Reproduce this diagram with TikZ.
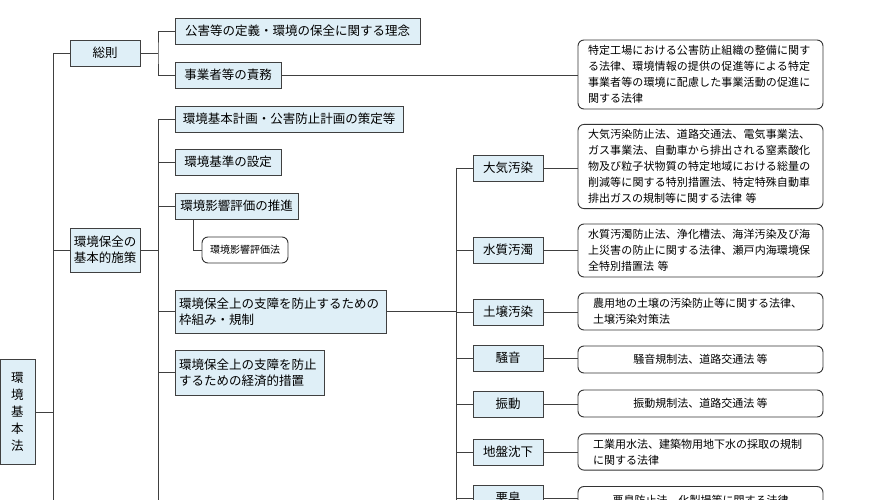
\documentclass[tikz,border=0pt]{standalone}
\usepackage{fontspec}
\setmainfont{Noto Sans CJK JP}
\XeTeXlinebreaklocale "ja"
\XeTeXlinebreakskip=0pt plus 1pt
\definecolor{boxblue}{RGB}{223,239,247}
\begin{document}
\begin{tikzpicture}[x=1pt,y=-1pt,
  box/.style={draw=black!75,line width=0.9pt,fill=boxblue,inner sep=2pt,
              font=\fontsize{12.5}{16}\selectfont,minimum height=26pt},
  lawc/.style={draw=black!80,line width=0.9pt,rounded corners=6pt,fill=white,
              font=\fontsize{11}{16}\selectfont,minimum width=245pt,inner sep=5pt},
  law/.style={lawc,text width=225pt,align=left},
  cat/.style={box,minimum width=70pt},
  wire/.style={draw=black!75,line width=0.9pt}]
  \clip (0,0) rectangle (876,500);
  \fill[white] (0,0) rectangle (876,500);
  % left column
  \node[box,minimum width=35pt,minimum height=105pt,align=center,font=\fontsize{12.5}{17}\selectfont]
        (kihon)  at (17.5,412) {環\\境\\基\\本\\法};
  \node[box,minimum width=70pt] (soku)   at (105,53)  {総則};
  \node[box,minimum width=70pt,minimum height=44pt,align=left] (sesaku) at (105,250) {環境保全の\\基本的施策};
  \coordinate (t0) at (53,53);
  \coordinate (t1) at (53,500);
  \draw[wire] (t0) -- (t1);
  \draw[wire] (kihon.east) -- (kihon.east -| t0);
  \draw[wire] (t0) -- (soku.west);
  \draw[wire] (sesaku.west) -- (sesaku.west -| t0);
  % 総則
  \node[box,minimum width=245pt] (rinen)  at (297.5,31) {公害等の定義・環境の保全に関する理念};
  \node[box,minimum width=106pt] (sekimu) at (228,75)   {事業者等の責務};
  \node[law,minimum height=69pt] (l0) at (700.5,74.5)
        {特定工場における公害防止組織の整備に関する法律、環境情報の提供の促進等による特定事業者等の環境に配慮した事業活動の促進に関する法律};
  \draw[wire] (soku.east) -- (158,53);
  \draw[wire] (rinen.west) -| (158,53) |- (sekimu.west);
  \draw[wire] (sekimu.east) -- (sekimu.east -| l0.west);
  % 基本的施策
  \node[box,minimum width=228pt] (keikaku) at (289,119) {環境基本計画・公害防止計画の策定等};
  \node[box,minimum width=106pt] (kijun)   at (228,162) {環境基準の設定};
  \node[box,minimum width=123pt] (eikyo)   at (236.5,206) {環境影響評価の推進};
  \node[lawc,minimum width=86pt,minimum height=26pt,
        font=\fontsize{10}{12}\selectfont] (eikyoho) at (245,250) {環境影響評価法};
  \node[box,minimum width=211pt,minimum height=43pt,text width=203pt,align=left] (kisei) at (280.5,311.5)
        {環境保全上の支障を防止するための\\枠組み・規制};
  \node[box,minimum width=149pt,minimum height=45pt,text width=141pt,align=left] (keizai) at (249.5,372.5)
        {環境保全上の支障を防止\\するための経済的措置};
  \coordinate (s0) at (158,119);
  \coordinate (s1) at (158,500);
  \draw[wire] (s0) -- (s1);
  \draw[wire] (sesaku.east) -- (sesaku.east -| s0);
  \foreach \n in {keikaku,kijun,eikyo,kisei,keizai}
    \draw[wire] (\n.west) -- (\n.west -| s0);
  \draw[wire] (eikyo.south -| 193,0) |- (eikyoho.west);
  % 規制の分野
  \coordinate (k0) at (456,168);
  \coordinate (k1) at (456,500);
  \draw[wire] (k0) -- (k1);
  \draw[wire] (kisei.east) -- (kisei.east -| k0);
  \foreach \n/\y/\t in {taiki/168/大気汚染,suishitsu/250/水質汚濁,dojo/312/土壌汚染,soon/358/騒音,
                        shindo/404/振動,jiban/452/地盤沈下,akushu/498/悪臭}
    \node[cat] (\n) at (508,\y) {\t};
  \node[law,minimum height=79pt] (ltaiki) at (700.5,166.5)
        {大気汚染防止法、道路交通法、電気事業法、ガス事業法、自動車から排出される窒素酸化物及び粒子状物質の特定地域における総量の削減等に関する特別措置法、特定特殊自動車排出ガスの規制等に関する法律 等};
  \node[law,minimum height=53pt] (lsuishitsu) at (700.5,250.5)
        {水質汚濁防止法、浄化槽法、海洋汚染及び海上災害の防止に関する法律、瀬戸内海環境保全特別措置法 等};
  \node[law,minimum height=37pt,text width=215pt] (ldojo) at (700.5,311.5)
        {農用地の土壌の汚染防止等に関する法律、\\土壌汚染対策法};
  \node[lawc,minimum height=27pt] (lsoon) at (700.5,359.5) {騒音規制法、道路交通法 等};
  \node[lawc,minimum height=27pt] (lshindo) at (700.5,403.5) {振動規制法、道路交通法 等};
  \node[law,minimum height=36pt,text width=215pt] (ljiban) at (700.5,452)
        {工業用水法、建築物用地下水の採取の規制\\に関する法律};
  \node[lawc,minimum height=27pt] (lakushu) at (700.5,500) {悪臭防止法、化製場等に関する法律};
  \foreach \n in {taiki,suishitsu,dojo,soon,shindo,jiban,akushu}{
    \draw[wire] (\n.west) -- (\n.west -| k0);
    \draw[wire] (\n.east) -- (\n.east -| l\n.west);
  }
\end{tikzpicture}
\end{document}
